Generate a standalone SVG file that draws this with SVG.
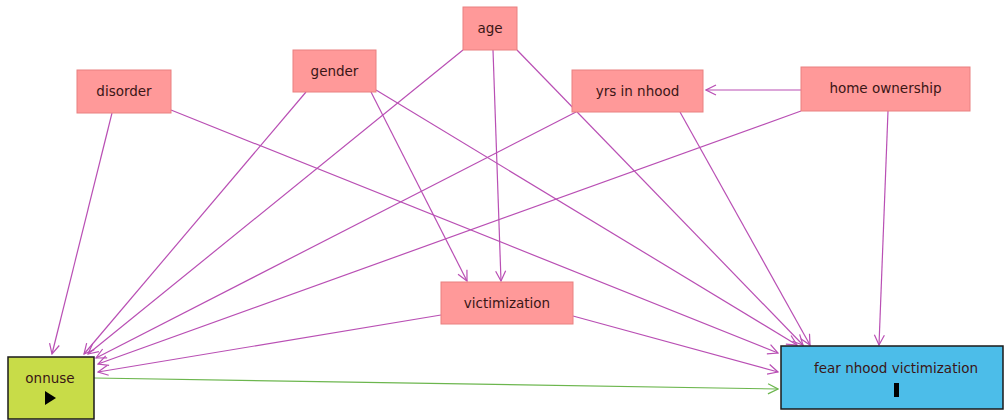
<svg xmlns="http://www.w3.org/2000/svg" width="1005" height="420" viewBox="0 0 1005 420">
<defs>
<style>
.n rect{fill:#ff9999;stroke:#e98080;stroke-width:1}
.t{font-family:"DejaVu Sans","Open Sans",sans-serif;font-size:13.5px;fill:#3a1616;text-anchor:middle}
.e line{stroke:#b94fb4;stroke-width:1.2;fill:none;marker-end:url(#ah)}
</style>
<marker id="ah" viewBox="0 0 12 12" refX="11" refY="6" markerWidth="12" markerHeight="12" orient="auto" markerUnits="userSpaceOnUse">
<path d="M1,1 L11,6 L1,11" fill="none" stroke="#b94fb4" stroke-width="1.2"/>
</marker>
<marker id="ag" viewBox="0 0 12 12" refX="11" refY="6" markerWidth="12" markerHeight="12" orient="auto" markerUnits="userSpaceOnUse">
<path d="M1,1 L11,6 L1,11" fill="none" stroke="#6cb64e" stroke-width="1.2"/>
</marker>
</defs>
<rect width="1005" height="420" fill="#ffffff"/>
<g id="connectors" class="e">
<line x1="112" y1="113" x2="52" y2="354"/>
<line x1="171" y1="110" x2="778" y2="353"/>
<line x1="306" y1="92" x2="84" y2="354"/>
<line x1="371" y1="92" x2="467" y2="281"/>
<line x1="376" y1="90" x2="797" y2="345"/>
<line x1="463" y1="50" x2="88" y2="354"/>
<line x1="493" y1="50" x2="501" y2="281"/>
<line x1="517" y1="50" x2="803" y2="345"/>
<line x1="576" y1="112" x2="96" y2="358"/>
<line x1="680" y1="112" x2="810" y2="345"/>
<line x1="801" y1="90" x2="706" y2="90"/>
<line x1="801" y1="111" x2="98" y2="364"/>
<line x1="888" y1="111" x2="879" y2="345"/>
<line x1="441" y1="315" x2="98" y2="372"/>
<line x1="573" y1="316" x2="778" y2="372"/>
<line x1="94" y1="378" x2="778" y2="389" style="stroke:#6cb64e;marker-end:url(#ag)"/>
</g>
<g id="disorder" class="n"><rect x="77" y="70" width="94" height="43"/><text class="t" x="124" y="96">disorder</text></g>
<g id="gender" class="n"><rect x="293" y="50" width="83" height="42"/><text class="t" x="334.5" y="76">gender</text></g>
<g id="age" class="n"><rect x="463" y="7" width="54" height="43"/><text class="t" x="490" y="33">age</text></g>
<g id="yrs" class="n"><rect x="572" y="70" width="131" height="42"/><text class="t" x="637.5" y="96">yrs in nhood</text></g>
<g id="home" class="n"><rect x="801" y="67" width="169" height="44"/><text class="t" x="885.5" y="93">home ownership</text></g>
<g id="victimization" class="n"><rect x="441" y="282" width="132" height="42"/><text class="t" x="507" y="308">victimization</text></g>
<g id="onnuse"><rect x="8" y="357" width="86" height="62" fill="#c8dc48" stroke="#1a1a1a" stroke-width="1.5"/><text class="t" x="50" y="383">onnuse</text><path d="M45,391 L56,398 L45,405 Z" fill="#000"/></g>
<g id="fear"><rect x="781" y="346" width="222" height="63" fill="#4cbde9" stroke="#1a1a1a" stroke-width="1.5"/><text class="t" x="896" y="373">fear nhood victimization</text><rect x="894" y="383" width="5" height="14" fill="#000"/></g>
</svg>
